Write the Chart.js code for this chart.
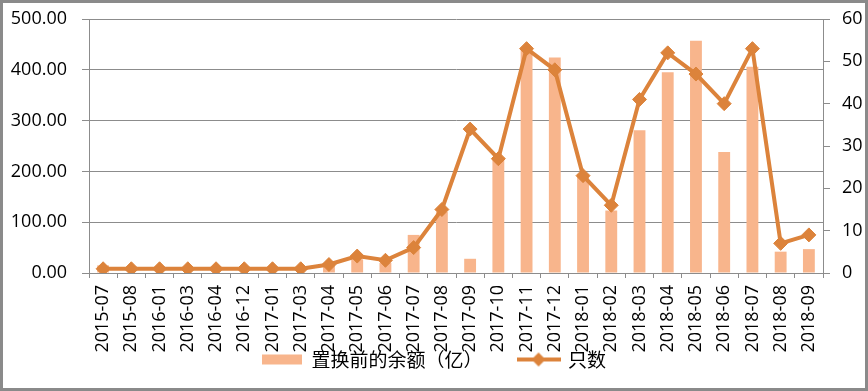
<!DOCTYPE html>
<html>
<head>
<meta charset="utf-8">
<script src="https://cdn.jsdelivr.net/npm/chart.js@4/dist/chart.umd.min.js"></script>
<style>
  html, body { margin: 0; padding: 0; background: #fff; }
  #wrap { width: 868px; height: 391px; }
</style>
</head>
<body>
<div id="wrap"><canvas id="chart" width="868" height="391"></canvas></div>
<script>
const months = ['2015-07', '2015-08', '2016-01', '2016-03', '2016-04', '2016-12', '2017-01', '2017-03',
  '2017-04', '2017-05', '2017-06', '2017-07', '2017-08', '2017-09', '2017-10', '2017-11', '2017-12',
  '2018-01', '2018-02', '2018-03', '2018-04', '2018-05', '2018-06', '2018-07', '2018-08', '2018-09']
// 置换前的余额（亿）
const balance = [15, 0, 0, 0, 0, 0, 0, 0, 20, 27, 20, 75, 120, 28, 228, 440, 424, 195, 123, 281, 395, 457, 238, 406, 42, 47]
// 只数
const counts = [1, 1, 1, 1, 1, 1, 1, 1, 2, 4, 3, 6, 15, 34, 27, 53, 48, 23, 16, 41, 52, 47, 40, 53, 7, 9]
const leftTicks = [0, 100, 200, 300, 400, 500]
const rightTicks = [0, 10, 20, 30, 40, 50, 60]

const barColor = '#F8B58C'
const lineColor = '#DC833B'
const gridColor = '#8C8C8C'
const tickFont = {family: "'Open Sans', sans-serif", size: 18}

// legend swatch for the line series: a short line with a diamond on it
const lineSwatch = document.createElement('canvas')
lineSwatch.width = 44
lineSwatch.height = 16
{
  const c = lineSwatch.getContext('2d')
  c.strokeStyle = lineColor
  c.lineWidth = 4
  c.beginPath(); c.moveTo(0, 8); c.lineTo(44, 8); c.stroke()
  c.fillStyle = lineColor
  c.beginPath(); c.moveTo(22, 1); c.lineTo(29, 8); c.lineTo(22, 15); c.lineTo(15, 8); c.closePath(); c.fill()
}

const frame = {
  id: 'frame',
  // x labels run down into the legend band, so let them draw past the axis box
  afterLayout(chart) {
    const x = chart.scales.x
    x.bottom = chart.height
    x.height = x.bottom - x.top
  },
  afterDraw(chart) {
    const ctx = chart.ctx
    ctx.save()
    ctx.strokeStyle = '#8A8A8A'
    ctx.lineWidth = 3
    ctx.strokeRect(1.5, 1.5, chart.width - 3, chart.height - 3)
    ctx.restore()
  }
}

const fixWidth = w => scale => {
  scale.width = w
  scale.paddingTop = 0
  scale.paddingBottom = 0
}

new Chart(document.getElementById('chart'), {
  type: 'bar',
  data: {
    labels: months,
    datasets: [{
      type: 'line',
      label: '只数',
      data: counts,
      yAxisID: 'y2',
      borderColor: lineColor,
      backgroundColor: lineColor,
      borderWidth: 4,
      tension: 0,
      pointStyle: 'rectRot',
      pointRadius: 7,
      pointBorderWidth: 1,
      pointBackgroundColor: lineColor,
      order: 0
    }, {
      type: 'bar',
      label: '置换前的余额（亿）',
      data: balance,
      yAxisID: 'y',
      backgroundColor: barColor,
      barPercentage: 0.42,
      categoryPercentage: 1,
      order: 1
    }]
  },
  options: {
    responsive: false,
    animation: false,
    layout: {padding: {top: 19, left: 0, right: 0, bottom: 12}},
    plugins: {
      tooltip: {enabled: false},
      legend: {
        position: 'bottom',
        labels: {
          color: '#000',
          font: {family: "'Noto Sans CJK SC', sans-serif", size: 19},
          usePointStyle: true,
          pointStyleWidth: 40,
          boxHeight: 10,
          padding: 36,
          sort: (a, b) => b.datasetIndex - a.datasetIndex,
          generateLabels(chart) {
            const items = Chart.defaults.plugins.legend.labels.generateLabels(chart)
            items.forEach(it => {
              if (it.datasetIndex === 1) {
                it.pointStyle = 'rect'
                it.fillStyle = barColor
                it.strokeStyle = barColor
                it.lineWidth = 0
              } else {
                it.pointStyle = lineSwatch
              }
            })
            return items
          }
        }
      }
    },
    scales: {
      x: {
        grid: {drawOnChartArea: false, drawTicks: true, tickLength: 5, color: gridColor, offset: true},
        border: {color: gridColor},
        ticks: {
          color: '#000',
          font: tickFont,
          minRotation: 90,
          maxRotation: 90,
          autoSkip: false,
          padding: 7
        },
        afterFit(scale) { scale.height = 41 }
      },
      y: {
        position: 'left',
        min: leftTicks[0],
        max: leftTicks[leftTicks.length - 1],
        afterBuildTicks(scale) { scale.ticks = leftTicks.map(v => ({value: v})) },
        grid: {color: gridColor, tickLength: 7},
        border: {color: gridColor},
        ticks: {
          color: '#000',
          font: tickFont,
          padding: 15,
          callback: v => v.toFixed(2)
        },
        afterFit: fixWidth(89)
      },
      y2: {
        position: 'right',
        min: rightTicks[0],
        max: rightTicks[rightTicks.length - 1],
        afterBuildTicks(scale) { scale.ticks = rightTicks.map(v => ({value: v})) },
        grid: {drawOnChartArea: false, color: gridColor, tickLength: 7},
        border: {color: gridColor},
        ticks: {color: '#000', font: tickFont, padding: 12},
        afterFit: fixWidth(45)
      }
    }
  },
  plugins: [frame]
})
</script>
</body>
</html>
